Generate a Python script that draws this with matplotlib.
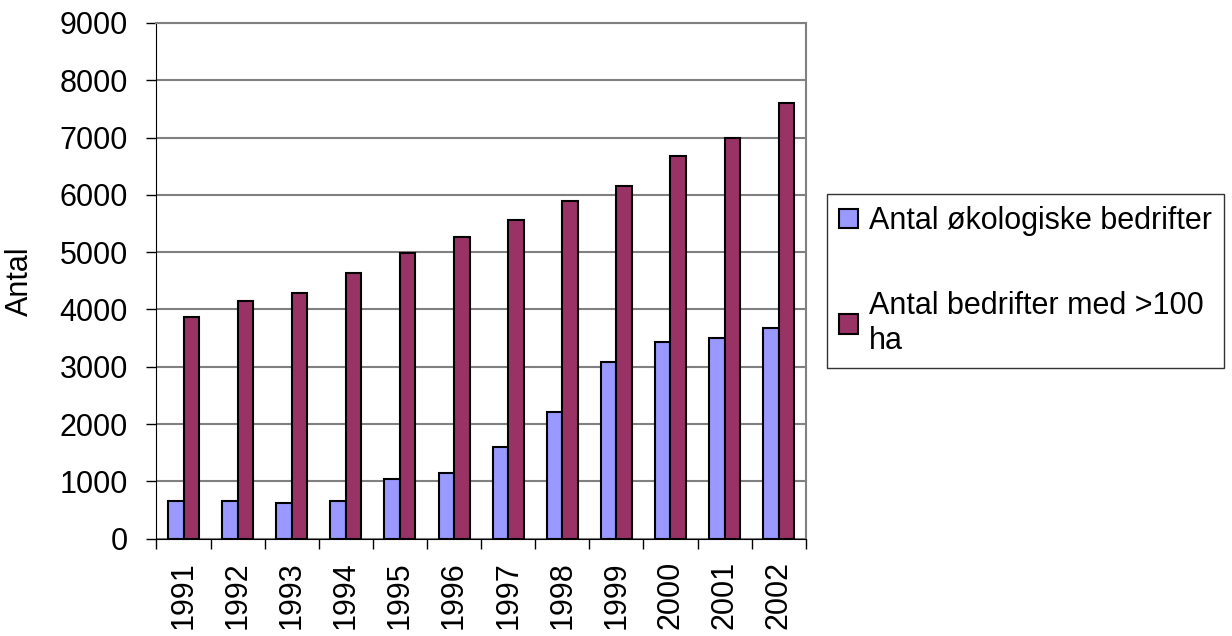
import numpy as np
import matplotlib.pyplot as plt

plt.rcParams['font.family'] = ['Liberation Sans', 'DejaVu Sans']

years = ['1991', '1992', '1993', '1994', '1995', '1996',
         '1997', '1998', '1999', '2000', '2001', '2002']
okologiske = [666, 666, 631, 666, 1043, 1153, 1593, 2219, 3089, 3437, 3501, 3680]
over_100ha = [3866, 4139, 4290, 4640, 4990, 5270, 5553, 5901, 6150, 6671, 6991, 7610]

labels = ['Antal økologiske bedrifter', 'Antal bedrifter med >100\nha']

fs = 22

fig = plt.figure(figsize=(12.32, 6.36), dpi=100)
ax = fig.add_axes([0.127, 0.153, 0.527, 0.811])

x = np.arange(len(years))
w = 0.286
ax.bar(x - w / 2, okologiske, w, color='#9999ff', edgecolor='black', linewidth=1.5,
       label=labels[0], zorder=3)
ax.bar(x + w / 2, over_100ha, w, color='#993366', edgecolor='black', linewidth=1.5,
       label=labels[1], zorder=3)

ax.set_xlim(-0.5, len(years) - 0.5)
ax.set_ylim(0, 9000)
ax.set_yticks(range(0, 9001, 1000))
ax.yaxis.grid(True, color='#808080', linewidth=1.5, zorder=0)

# ticks between categories
ax.set_xticks(np.arange(-0.5, len(years), 1.0))
ax.set_xticklabels([])
ax.set_xticks(x, minor=True)
ax.set_xticklabels(years, minor=True, rotation=90, fontsize=fs)
ax.tick_params(axis='x', which='minor', length=0, pad=16)
ax.tick_params(axis='x', which='major', length=7, direction='out', width=1)
ax.tick_params(axis='y', labelsize=fs, length=7.5, width=1, pad=13)

for s in ['top', 'right']:
    ax.spines[s].set_color('#808080')
    ax.spines[s].set_linewidth(1.5)
ax.spines['left'].set_color('black')
ax.spines['bottom'].set_color('black')

ax.set_ylabel('Antal', fontsize=fs, labelpad=18)

leg = fig.legend(loc='upper left', bbox_to_anchor=(0.671, 0.695), fontsize=fs,
                 frameon=True, fancybox=False, shadow=False, labelspacing=1.8,
                 handlelength=0.62, handleheight=0.62, handletextpad=0.36,
                 borderpad=0.4, borderaxespad=0)
leg.get_frame().set_edgecolor('black')
leg.get_frame().set_linewidth(1)

plt.savefig('out.png', dpi=100)
